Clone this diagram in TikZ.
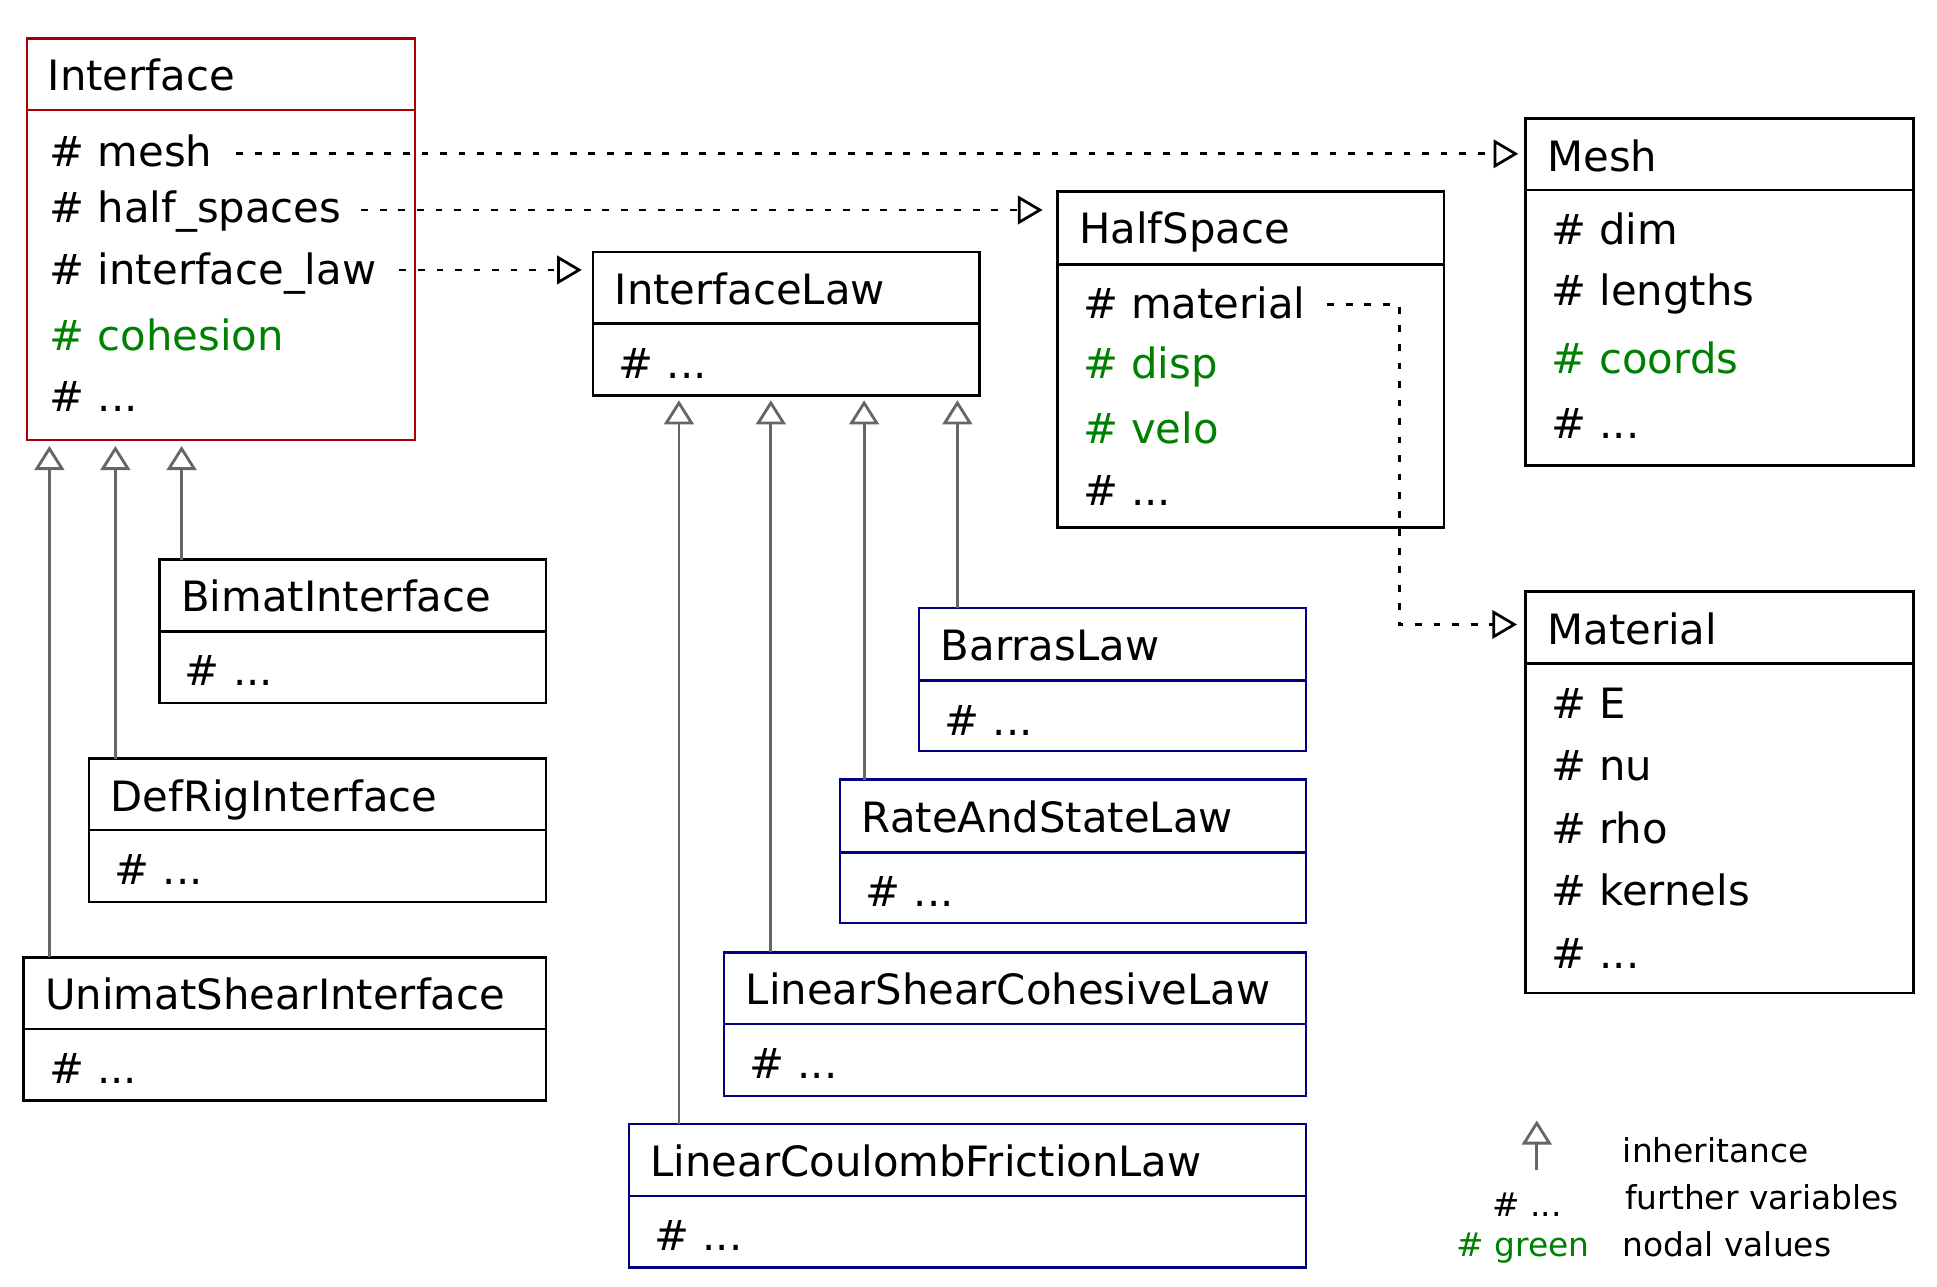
\documentclass[tikz,border=0pt]{standalone}
\usepackage{fontspec}
\setmainfont{DejaVu Sans}
\usetikzlibrary{arrows.meta,calc}
\definecolor{ifred}{RGB}{170,0,0}
\definecolor{lawblue}{RGB}{0,0,128}
\definecolor{attgreen}{RGB}{0,128,0}
\definecolor{inhgray}{RGB}{102,102,102}
\begin{document}
\begin{tikzpicture}[x=1pt,y=-1pt,
  cbox/.style={draw=#1, line width=2pt, inner sep=0pt, outer sep=0pt, anchor=north west},
  cbox/.default=black,
  ctext/.style={anchor=base west, inner sep=0pt, font=\fontsize{33.8pt}{40pt}\selectfont},
  nodal/.style={ctext, text=attgreen},
  inh/.style={draw=inhgray, line width=2.3pt, -{Triangle[open, length=19.5pt, width=24pt]}},
  dep/.style={draw=black, line width=2.2pt, dash pattern=on 5.5pt off 9.5pt, -{Triangle[open, length=20pt, width=23pt]}},
  lgd/.style={inner sep=0pt, font=\fontsize{26.6pt}{32pt}\selectfont}
]
\useasboundingbox (0,0) rectangle (1568,1041.8);

% ---------- Interface ----------
\node[cbox=ifred, minimum width=314pt, minimum height=58pt] (iface) at (22,31) {};
\node[cbox=ifred, minimum width=314pt, minimum height=267pt] (ifaceb) at (iface.south west) {};
\node[ctext] (ifaceT) at (38.5,73.5) {Interface};
\node[ctext] (ifmesh) at (40,135) {\# mesh};
\node[ctext] (ifhalf) at (40,180.5) {\# half\_spaces};
\node[ctext] (iflaw) at (40,230.5) {\# interface\_law};
\node[nodal] (ifcoh) at (40,284) {\# cohesion};
\node[ctext] (ifdots) at (40,333) {\# ...};

% ---------- InterfaceLaw ----------
\node[cbox, minimum width=313pt, minimum height=58pt] (law) at (480,204) {};
\node[cbox, minimum width=313pt, minimum height=58pt] (lawb) at (law.south west) {};
\node[ctext] (lawT) at (497.5,246.5) {InterfaceLaw};
\node[ctext] (lawdots) at (500.5,306) {\# ...};

% ---------- HalfSpace ----------
\node[cbox, minimum width=313pt, minimum height=59pt] (half) at (856,155) {};
\node[cbox, minimum width=313pt, minimum height=213pt] (halfb) at (half.south west) {};
\node[ctext] (halfT) at (873.5,197.5) {HalfSpace};
\node[ctext] (hsmat) at (876.5,258) {\# material};
\node[nodal] (hsdisp) at (876.5,306) {\# disp};
\node[nodal] (hsvelo) at (876.5,359) {\# velo};
\node[ctext] (hsdots) at (876.5,409) {\# ...};

% ---------- Mesh ----------
\node[cbox, minimum width=314pt, minimum height=58pt] (mesh) at (1235,96) {};
\node[cbox, minimum width=314pt, minimum height=223pt] (meshb) at (mesh.south west) {};
\node[ctext] (meshT) at (1252.5,138.5) {Mesh};
\node[ctext] (mdim) at (1255.5,198.3) {\# dim};
\node[ctext] (mlen) at (1255.5,247) {\# lengths};
\node[nodal] (mcoo) at (1255.5,302) {\# coords};
\node[ctext] (mdots) at (1255.5,355) {\# ...};

% ---------- Material ----------
\node[cbox, minimum width=314pt, minimum height=58pt] (mat) at (1235,479) {};
\node[cbox, minimum width=314pt, minimum height=267pt] (matb) at (mat.south west) {};
\node[ctext] (matT) at (1252.5,521.5) {Material};
\node[ctext] (matE) at (1255.5,582) {\# E};
\node[ctext] (matnu) at (1255.5,632) {\# nu};
\node[ctext] (matrho) at (1255.5,683) {\# rho};
\node[ctext] (matker) at (1255.5,733) {\# kernels};
\node[ctext] (matdots) at (1255.5,784) {\# ...};

% ---------- Interface subclasses ----------
\node[cbox, minimum width=313pt, minimum height=58pt] (bimat) at (129,453) {};
\node[cbox, minimum width=313pt, minimum height=58pt] (bimatb) at (bimat.south west) {};
\node[ctext] (bimatT) at (146.5,495) {BimatInterface};
\node[ctext] (bimatd) at (149.5,555) {\# ...};

\node[cbox, minimum width=370pt, minimum height=58pt] (defrig) at (72,614) {};
\node[cbox, minimum width=370pt, minimum height=58pt] (defrigb) at (defrig.south west) {};
\node[ctext] (defrigT) at (89.5,656.5) {DefRigInterface};
\node[ctext] (defrigd) at (92.5,716) {\# ...};

\node[cbox, minimum width=423pt, minimum height=58pt] (unimat) at (19,775) {};
\node[cbox, minimum width=423pt, minimum height=58pt] (unimatb) at (unimat.south west) {};
\node[ctext] (unimatT) at (36.5,817.5) {UnimatShearInterface};
\node[ctext] (unimatd) at (39.5,877) {\# ...};

% ---------- InterfaceLaw subclasses ----------
\node[cbox=lawblue, minimum width=313pt, minimum height=59pt] (barras) at (744,492) {};
\node[cbox=lawblue, minimum width=313pt, minimum height=57pt] (barrasb) at (barras.south west) {};
\node[ctext] (barrasT) at (761.5,534.5) {BarrasLaw};
\node[ctext] (barrasd) at (764.5,595) {\# ...};

\node[cbox=lawblue, minimum width=377pt, minimum height=59pt] (rate) at (680,631) {};
\node[cbox=lawblue, minimum width=377pt, minimum height=57pt] (rateb) at (rate.south west) {};
\node[ctext] (rateT) at (697.5,673.5) {RateAndStateLaw};
\node[ctext] (rated) at (700.5,734) {\# ...};

\node[cbox=lawblue, minimum width=471pt, minimum height=58pt] (lsc) at (586,771) {};
\node[cbox=lawblue, minimum width=471pt, minimum height=58pt] (lscb) at (lsc.south west) {};
\node[ctext] (lscT) at (603.5,813.5) {LinearShearCohesiveLaw};
\node[ctext] (lscd) at (606.5,873) {\# ...};

\node[cbox=lawblue, minimum width=548pt, minimum height=58pt] (lcf) at (509,910) {};
\node[cbox=lawblue, minimum width=548pt, minimum height=58pt] (lcfb) at (lcf.south west) {};
\node[ctext] (lcfT) at (526.5,952.5) {LinearCoulombFrictionLaw};
\node[ctext] (lcfd) at (529.5,1012) {\# ...};

% ---------- association (dotted) arrows ----------
\coordinate (ms) at ($(ifmesh.base east)+(19,-10.5)$);
\draw[dep, shorten >=6pt] (ms) -- (ms -| mesh.west);
\coordinate (hs) at ($(ifhalf.base east)+(16,-10.5)$);
\draw[dep, shorten >=12pt] (hs) -- (hs -| half.west);
\coordinate (il) at ($(iflaw.base east)+(18.5,-12)$);
\draw[dep, shorten >=9pt] (il) -- (il -| law.west);
\coordinate (mt) at ($(hsmat.base east)+(17.5,-11.5)$);
\coordinate (mbend) at (1132.6,0);
\draw[dep, shorten >=7pt] (mt) -- (mt -| mbend) |- ($(mat.west)+(0,-2.5)$);

% ---------- inheritance arrows ----------
\coordinate (i1) at (40,0);
\coordinate (i2) at (93.4,0);
\coordinate (i3) at (147,0);
\draw[inh, shorten >=5pt] (unimat.north -| i1) -- (ifaceb.south -| i1);
\draw[inh, shorten >=5pt] (defrig.north -| i2) -- (ifaceb.south -| i2);
\draw[inh, shorten >=5pt] (bimat.north -| i3) -- (ifaceb.south -| i3);
\coordinate (l1) at (549.6,0);
\coordinate (l2) at (624,0);
\coordinate (l3) at (699.5,0);
\coordinate (l4) at (775,0);
\draw[inh, shorten >=4pt] (lcf.north -| l1) -- (lawb.south -| l1);
\draw[inh, shorten >=4pt] (lsc.north -| l2) -- (lawb.south -| l2);
\draw[inh, shorten >=4pt] (rate.north -| l3) -- (lawb.south -| l3);
\draw[inh, shorten >=4pt] (barras.north -| l4) -- (lawb.south -| l4);

% ---------- legend ----------
\coordinate (lgA) at (1244,947);
\coordinate (lgB) at (1244,907);
\draw[inh] (lgA) -- (lgB);
\node[lgd, anchor=base west] (lg1) at (1313.5,941) {inheritance};
\node[lgd, anchor=base west] (lg2) at (1315.5,979) {further variables};
\node[lgd, anchor=base west] (lg3) at (1313.5,1017) {nodal values};
\node[lgd, anchor=base] (lg4) at (1236,985) {\# ...};
\node[lgd, anchor=base, text=attgreen] (lg5) at (1233,1017) {\# green};
\end{tikzpicture}
\end{document}
